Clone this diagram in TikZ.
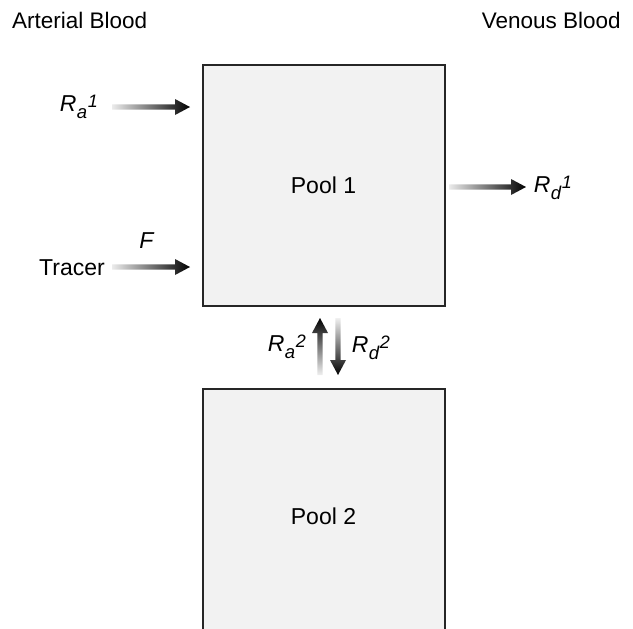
\documentclass[tikz,border=0pt]{standalone}
\usepackage{fontspec}
\setmainfont{Liberation Sans}
\usetikzlibrary{calc}
\newcommand\Rlab[2]{\textit{R\kern0.3pt\raisebox{-6.5pt}{\fontsize{18.5}{18}\selectfont #1}\kern0.8pt\raisebox{4pt}{\fontsize{18}{18}\selectfont #2}}}
\begin{document}
\begin{tikzpicture}[x=1pt,y=-1pt,
  pool/.style={draw=black!85, line width=2pt, fill=black!5, minimum width=242pt, inner sep=0pt, font=\fontsize{23}{27}\selectfont},
  lbl/.style={font=\fontsize{23}{27}\selectfont, text=black, inner sep=0pt},
  hflow/.style={left color=black!8, middle color=black!95, right color=black},
  upflow/.style={bottom color=black!6, middle color=black!95, top color=black},
  downflow/.style={top color=black!6, middle color=black!95, bottom color=black},
]
\useasboundingbox (0,0) rectangle (633,629);
\node[pool, minimum height=241pt] (pool1) at (323.5,185.5) {Pool 1};
\node[pool, minimum height=254pt] (pool2) at (323.5,516) {Pool 2};

\node[lbl, anchor=west, font=\fontsize{22.5}{26}\selectfont] (arterial) at (12,20) {Arterial Blood};
\node[lbl, anchor=east, font=\fontsize{22.5}{26}\selectfont] (venous) at (621,20) {Venous Blood};

\node[lbl] (ra1) at (79,107) {\Rlab{a}{1}};
\node[lbl, anchor=east] (tracer) at (105,268) {Tracer};
\node[lbl] (flab) at (147,241) {\textit{F}};
\node[lbl] (rd1) at (553,188) {\Rlab{d}{1}};
\node[lbl] (ra2) at (287,347) {\Rlab{a}{2}};
\node[lbl] (rd2) at (371,348) {\Rlab{d}{2}};

\coordinate (ra1s) at (112,107);
\coordinate (ra1e) at (190,107);
\coordinate (trs) at (112,267);
\coordinate (tre) at (190,267);
\coordinate (rd1s) at (449,187);
\coordinate (rd1e) at (526,187);
\coordinate (ra2s) at (320,375);
\coordinate (ra2e) at (320,318);
\coordinate (rd2s) at (338,318);
\coordinate (rd2e) at (338,375);

% rightward arrows
\foreach \s/\e in {ra1s/ra1e, trs/tre, rd1s/rd1e}{
  \shade[hflow] ($(\s)+(0,-2.6)$) -- ($(\e)+(-15,-2.6)$) -- ($(\e)+(-15,-8)$) -- (\e)
    -- ($(\e)+(-15,8)$) -- ($(\e)+(-15,2.6)$) -- ($(\s)+(0,2.6)$) -- cycle;
}
% upward arrow
\shade[upflow] ($(ra2s)+(-2.6,0)$) -- ($(ra2e)+(-2.6,15)$) -- ($(ra2e)+(-8,15)$) -- (ra2e)
  -- ($(ra2e)+(8,15)$) -- ($(ra2e)+(2.6,15)$) -- ($(ra2s)+(2.6,0)$) -- cycle;
% downward arrow
\shade[downflow] ($(rd2s)+(-2.6,0)$) -- ($(rd2e)+(-2.6,-15)$) -- ($(rd2e)+(-8,-15)$) -- (rd2e)
  -- ($(rd2e)+(8,-15)$) -- ($(rd2e)+(2.6,-15)$) -- ($(rd2s)+(2.6,0)$) -- cycle;
\end{tikzpicture}
\end{document}
